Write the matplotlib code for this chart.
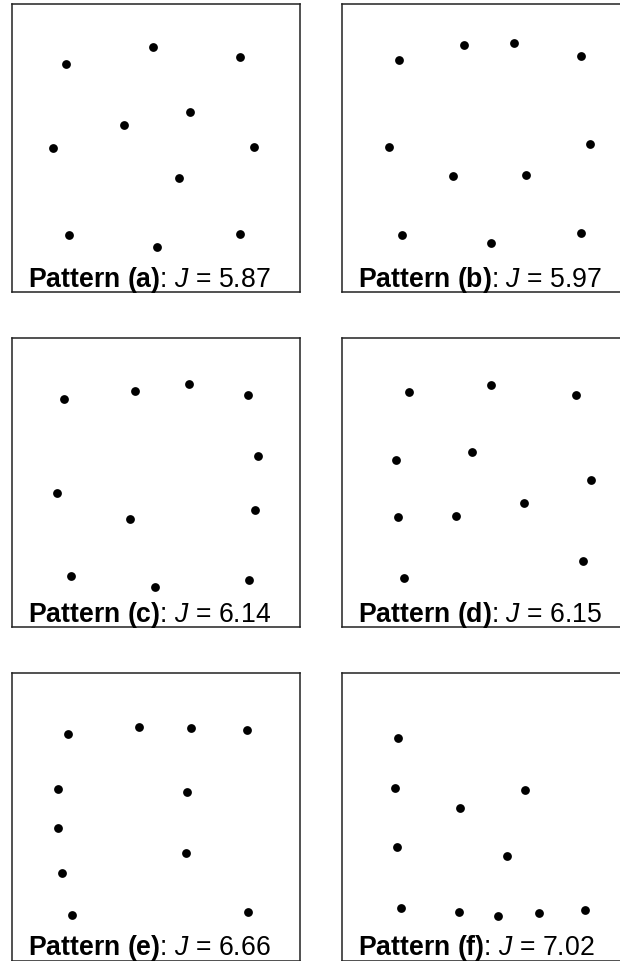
import matplotlib.pyplot as plt

plt.rcParams['font.family'] = 'Liberation Sans'
plt.rcParams['mathtext.fontset'] = 'custom'
plt.rcParams['mathtext.rm'] = 'Liberation Sans'
plt.rcParams['mathtext.bf'] = 'Liberation Sans:bold'
plt.rcParams['mathtext.it'] = 'Liberation Sans:italic'

# point coordinates of each pattern, in a 10 x 10 square
names = ['a', 'b', 'c', 'd', 'e', 'f']
j_values = [5.87, 5.97, 6.14, 6.15, 6.66, 7.02]

xa = [1.88, 4.91, 7.90, 6.18, 3.89, 1.44, 8.41, 5.80, 1.99, 5.05, 7.90]
ya = [7.91, 8.51, 8.15, 6.23, 5.81, 4.98, 5.02, 3.95, 1.97, 1.55, 2.02]

xb = [1.96, 4.24, 5.97, 8.27, 1.62, 8.59, 3.86, 6.38, 2.08, 5.15, 8.27]
yb = [8.05, 8.57, 8.62, 8.17, 5.02, 5.13, 4.02, 4.06, 1.99, 1.70, 2.06]

xc = [1.83, 4.26, 6.16, 8.21, 8.54, 1.57, 8.44, 4.11, 2.06, 4.98, 8.22]
yc = [7.91, 8.19, 8.40, 8.02, 5.92, 4.65, 4.06, 3.73, 1.76, 1.39, 1.61]

xd = [2.34, 5.17, 8.10, 1.87, 4.52, 8.65, 6.31, 1.94, 3.97, 8.34, 2.15]
yd = [8.14, 8.39, 8.04, 5.78, 6.06, 5.07, 4.30, 3.80, 3.84, 2.27, 1.70]

xe = [1.96, 4.42, 6.22, 8.17, 1.60, 6.08, 1.60, 6.03, 1.75, 2.09, 8.19]
ye = [7.89, 8.14, 8.08, 8.01, 5.99, 5.88, 4.63, 3.77, 3.07, 1.61, 1.71]

xf = [1.94, 1.85, 6.33, 4.09, 1.91, 5.73, 2.06, 4.04, 5.42, 6.83, 8.43]
yf = [7.76, 6.01, 5.94, 5.32, 3.98, 3.67, 1.84, 1.71, 1.58, 1.69, 1.79]

patterns = [(xa, ya), (xb, yb), (xc, yc), (xd, yd), (xe, ye), (xf, yf)]

W, H = 620, 962
fig = plt.figure(figsize=(W / 100, H / 100), dpi=100)

lefts = [11.7, 342.0]
tops = [4.7, 339.3, 674.0]
size = 288.4

for i, (px, py) in enumerate(patterns):
    row, col = divmod(i, 2)
    ax = fig.add_axes([lefts[col] / W, 1 - (tops[row] + size) / H, size / W, size / H])
    ax.scatter(px, py, s=40, c='black', linewidths=0)
    ax.set_xlim(0, 10)
    ax.set_ylim(0, 10)
    ax.set_xticks([])
    ax.set_yticks([])
    for sp in ax.spines.values():
        sp.set_linewidth(1.1)
        sp.set_color('#222222')
    # bottom row sits on the figure edge, so lift its label a little
    ty = 0.026 if row == 2 else 0.021
    ax.text(0.057, ty, r'$\mathbf{Pattern\ (%s)}$: $\mathit{J}$ = %.2f' % (names[i], j_values[i]),
            transform=ax.transAxes, fontsize=19.2, ha='left', va='baseline', color='black')

fig.savefig('out.png', dpi=100)
